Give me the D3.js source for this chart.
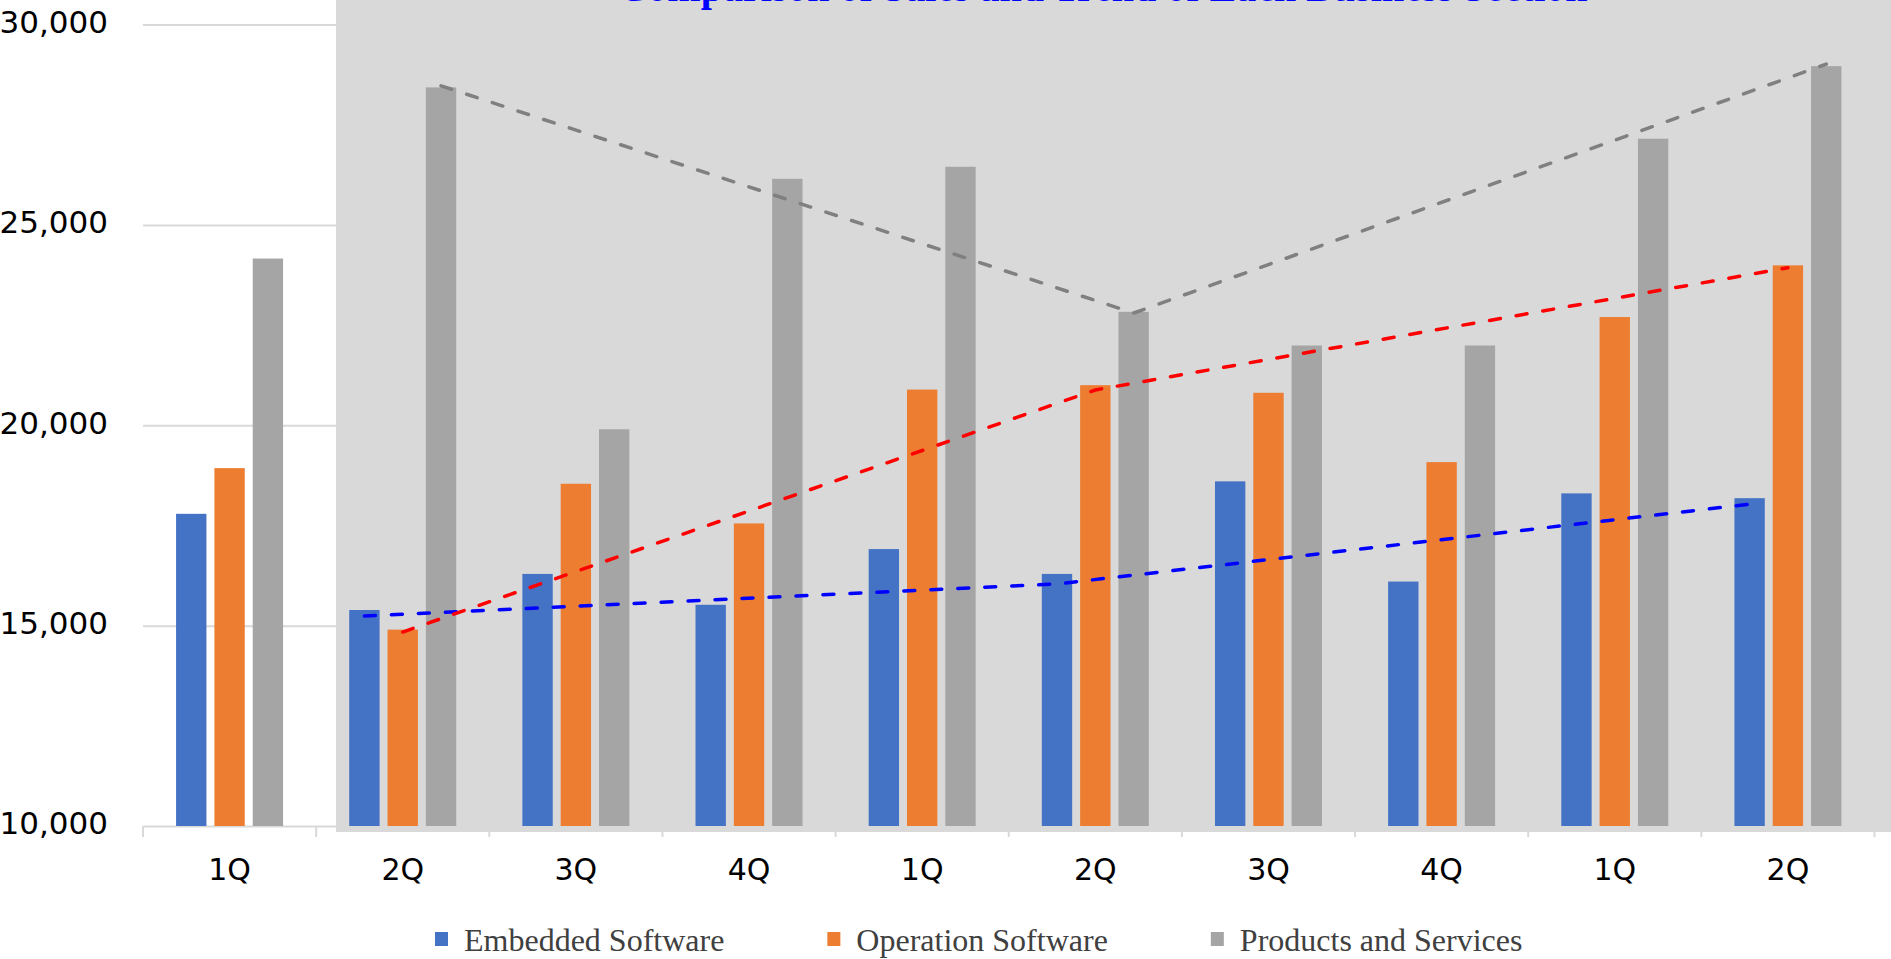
<!DOCTYPE html>
<html>
<head>
<meta charset="utf-8">
<script src="https://cdn.jsdelivr.net/npm/d3@7"></script>
<style>
  html, body { margin: 0; padding: 0; background: #fff; overflow: hidden; }
  svg { display: block; }
</style>
</head>
<body>
<svg id="chart" width="1891" height="959"></svg>
<script>
// Quarterly sales by segment
const quarters = ["1Q", "2Q", "3Q", "4Q", "1Q", "2Q", "3Q", "4Q", "1Q", "2Q"];
const seriesNames = ["Embedded Software", "Operation Software", "Products and Services"];
const embedded  = [17790, 15390, 16290, 15520, 16910, 16290, 18600, 16100, 18300, 18180];
const operation = [18930, 14900, 18540, 17550, 20890, 21000, 20810, 19080, 22700, 23990];
const products  = [24160, 28430, 19900, 26150, 26450, 22830, 21990, 21990, 27150, 28960];

// Trend points (2Q of each year)
const trendIndex      = [1, 5, 9];
const embeddedTrend   = [15240, 16040, 18030];
const operationTrend  = [14840, 20880, 23930];
const productsTrend   = [28470, 22800, 29010];

const yTicks = [10000, 15000, 20000, 25000, 30000];
const titleText = "Comparison of Sales and Trend of Each Business Section";

const barColors   = ["#4472C4", "#ED7D31", "#A5A5A5"];
const trendColors = ["#0000FF", "#FF0000", "#808080"];
const seriesValues = [embedded, operation, products];
const trendValues  = [embeddedTrend, operationTrend, productsTrend];

const W = 1891, H = 959;
const plotLeft = 143, plotRight = 1874.5;
const svg = d3.select("#chart");

const x0 = d3.scaleBand()
  .domain(d3.range(quarters.length))
  .range([plotLeft, plotRight])
  .padding(0);

const groupW = 107;
const x1 = d3.scaleBand()
  .domain(seriesNames)
  .range([0, groupW])
  .paddingInner(8 / 38.5)
  .paddingOuter(0);
const groupOffset = (x0.bandwidth() - groupW) / 2;

const y = d3.scaleLinear().domain([10000, 30000]).range([826, 24.5]);

// Horizontal gridlines and value labels
const yAxis = svg.append("g")
  .attr("transform", `translate(${plotLeft},0)`)
  .call(d3.axisLeft(y)
    .tickValues(yTicks)
    .tickSize(-(plotRight - plotLeft))
    .tickPadding(35)
    .tickFormat(d3.format(",")));
yAxis.select(".domain").remove();
yAxis.selectAll(".tick line").attr("stroke", "#d9d9d9").attr("stroke-width", 2);
yAxis.selectAll(".tick text")
  .attr("fill", "#000")
  .attr("dy", "0.25em")
  .style("font-family", "'DejaVu Sans', Verdana, sans-serif")
  .style("font-size", "31px");

// Category separators below the baseline
svg.append("g").selectAll("line")
  .data(d3.range(quarters.length + 1))
  .join("line")
  .attr("x1", i => i < quarters.length ? x0(i) : plotRight)
  .attr("x2", i => i < quarters.length ? x0(i) : plotRight)
  .attr("y1", y(10000))
  .attr("y2", y(10000) + 11)
  .attr("stroke", "#d9d9d9")
  .attr("stroke-width", 2);

// Shaded period panel
svg.append("rect")
  .attr("x", 336).attr("y", 0)
  .attr("width", W - 336).attr("height", 832)
  .attr("fill", "#d9d9d9");

// Bars
const groups = svg.append("g").selectAll("g")
  .data(d3.range(quarters.length))
  .join("g")
  .attr("transform", i => `translate(${x0(i) + groupOffset},0)`);

groups.selectAll("rect")
  .data(i => seriesNames.map((name, s) => ({ name, s, v: seriesValues[s][i] })))
  .join("rect")
  .attr("x", d => x1(d.name))
  .attr("width", x1.bandwidth())
  .attr("y", d => y(d.v))
  .attr("height", d => y(10000) - y(d.v))
  .attr("fill", d => barColors[d.s]);

// Dashed trend lines
const line = d3.line()
  .x(d => x0(d.i) + groupOffset + x1(d.name) + x1.bandwidth() / 2)
  .y(d => y(d.v));

seriesNames.forEach((name, s) => {
  const pts = trendIndex.map((i, k) => ({ i, name, v: trendValues[s][k] }));
  svg.append("path")
    .datum(pts)
    .attr("d", line)
    .attr("fill", "none")
    .attr("stroke", trendColors[s])
    .attr("stroke-width", 3.5)
    .attr("stroke-linecap", "round")
    .attr("stroke-dasharray", "11 16");
});

// Quarter labels
const xAxis = svg.append("g")
  .attr("transform", `translate(0,${y(10000)})`)
  .call(d3.axisBottom(x0).tickSize(0).tickPadding(0).tickFormat(i => quarters[i]));
xAxis.select(".domain").remove();
xAxis.selectAll(".tick text")
  .attr("y", 54)
  .attr("dy", 0)
  .attr("fill", "#000")
  .style("font-family", "'DejaVu Sans', Verdana, sans-serif")
  .style("font-size", "30px");

// Title (runs off the top edge of the frame)
svg.append("text")
  .attr("x", 1103).attr("y", 0.7)
  .attr("text-anchor", "middle")
  .attr("fill", "#0000FF")
  .style("font-family", "'Liberation Serif', 'Times New Roman', serif")
  .style("font-weight", "bold")
  .style("font-size", "40px")
  .text(titleText);

// Legend
const legend = svg.append("g");
let lx = 435;
seriesNames.forEach((name, s) => {
  const item = legend.append("g");
  item.append("rect")
    .attr("x", lx).attr("y", 932)
    .attr("width", 13).attr("height", 14)
    .attr("fill", barColors[s]);
  const t = item.append("text")
    .attr("x", lx + 29).attr("y", 951)
    .attr("fill", "#404040")
    .style("font-family", "'Liberation Serif', 'Times New Roman', serif")
    .style("font-size", "32px")
    .text(name);
  lx = lx + 29 + t.node().getComputedTextLength() + 103;
});
</script>
</body>
</html>
